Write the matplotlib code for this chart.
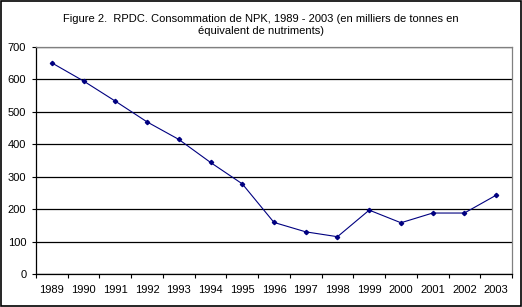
import matplotlib

matplotlib.use("Agg")
import matplotlib.pyplot as plt
import numpy as np

# NPK consumption, thousands of tonnes of nutrients
years = ["1989", "1990", "1991", "1992", "1993", "1994", "1995", "1996",
         "1997", "1998", "1999", "2000", "2001", "2002", "2003"]
npk = [651, 595, 533, 469, 415, 344, 278, 159, 130, 115, 197, 158, 188, 188, 243]
yticks = [0, 100, 200, 300, 400, 500, 600, 700]

title = ("Figure 2.  RPDC. Consommation de NPK, 1989 - 2003 (en milliers de tonnes en\n"
         "équivalent de nutriments)")

plt.rcParams["font.family"] = ["Liberation Sans", "DejaVu Sans"]

fig = plt.figure(figsize=(5.22, 3.07), dpi=100)
ax = fig.add_axes([36 / 522, 33 / 307, 476 / 522, 227 / 307])

x = np.arange(len(years))
ax.plot(x, npk, color="#000080", linewidth=0.8, marker="D", markersize=2.2)

ax.set_xlim(-0.5, len(years) - 0.5)
ax.set_ylim(0, 700)
ax.set_yticks(yticks)
ax.yaxis.grid(True, color="black", linewidth=0.9)
ax.set_axisbelow(True)

# ticks at category boundaries, labels at centres
ax.set_xticks(np.arange(len(years) + 1) - 0.5)
ax.set_xticklabels([])
ax.set_xticks(x, minor=True)
ax.set_xticklabels(years, minor=True)
ax.tick_params(axis="x", which="major", length=3, direction="out", width=0.8)
ax.tick_params(axis="x", which="minor", length=0, pad=8, labelsize=8)
ax.tick_params(axis="y", length=3, direction="out", width=0.8, labelsize=8, pad=4)

for side in ["left", "bottom"]:
    ax.spines[side].set_color("black")
    ax.spines[side].set_linewidth(0.9)
for side in ["top", "right"]:
    ax.spines[side].set_color("#808080")
    ax.spines[side].set_linewidth(0.9)

fig.text(0.5, 0.955, title, ha="center", va="top", fontsize=8, linespacing=1.3)

# outer chart border
fig.patches.append(plt.Rectangle((0.001, 0.002), 0.997, 0.995, transform=fig.transFigure,
                                 fill=False, edgecolor="black", linewidth=1.2))

fig.savefig("out.png", dpi=100)
plt.close(fig)
